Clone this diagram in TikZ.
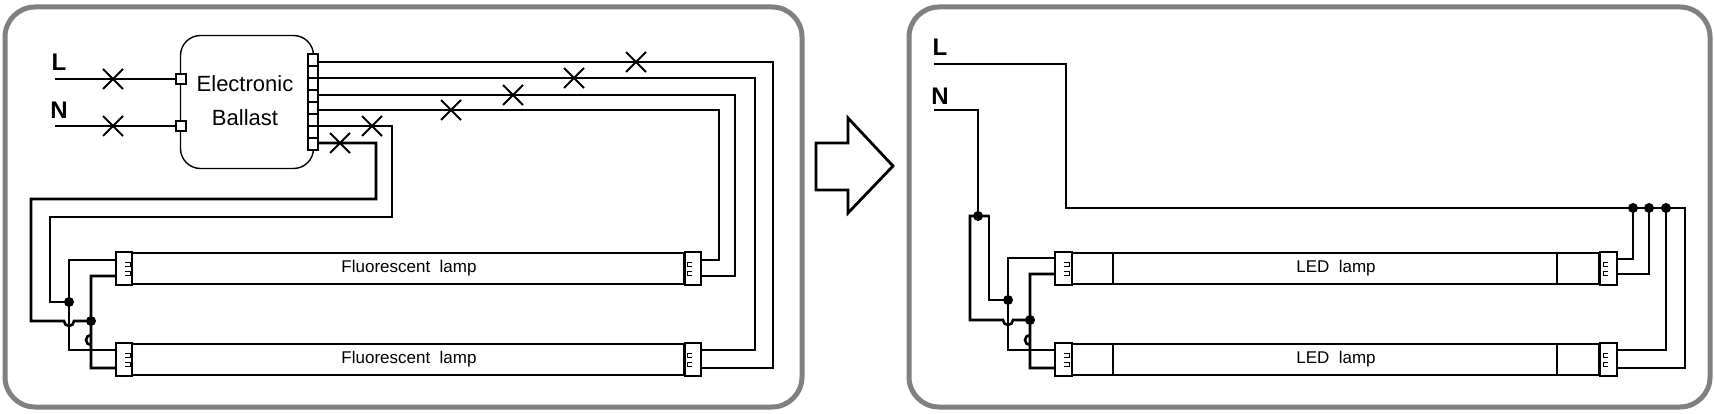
\documentclass[tikz,border=0pt]{standalone}
\usepackage{fontspec}
\setmainfont{Liberation Sans}
\begin{document}
\begin{tikzpicture}[x=1pt,y=-1pt,
  wire/.style={line width=2.6pt,line join=miter},
  frame/.style={line width=5pt,draw={rgb,255:red,128;green,128;blue,128},rounded corners=30pt},
  thin/.style={line width=1.4pt},
  dot/.style={circle,fill=black,inner sep=0pt,minimum size=10pt},
  lbl/.style={font=\bfseries\fontsize{24}{24}\selectfont},
  lamptxt/.style={font=\fontsize{17}{17}\selectfont}]
\useasboundingbox (0,0) rectangle (1715,414);
\newcommand{\xmark}[2]{\draw[line width=2pt] (#1-10,#2-10) -- (#1+10,#2+10) (#1-10,#2+10) -- (#1+10,#2-10);}
\newcommand{\lcap}[3]{% x1 x2 ytop
  \draw[thin,fill=white] (#1,#3) rectangle (#2,#3+33);
  \draw[line width=0.8pt] (#1+9,#3+10) -- (#1+14,#3+10) -- (#1+14,#3+14) -- (#1+9,#3+14) (#1+9,#3+19) -- (#1+14,#3+19) -- (#1+14,#3+23) -- (#1+9,#3+23);}
% frames
\draw[frame] (5,7) rectangle (802,407);
\draw[frame] (909,7) rectangle (1710,407);
% arrow
\draw[line width=2.8pt,line join=miter] (816,143) -- (848,143) -- (848,118) -- (893,166) -- (848,213) -- (848,190) -- (816,190) -- cycle;
% ===== left =====
\node[lbl] (L1) at (59,62) {L};
\node[lbl] (N1) at (59,110) {N};
\node[draw,thin,rounded corners=20pt,minimum width=133pt,minimum height=133pt] (bal) at (247,102) {};
\node[font=\fontsize{22}{22}\selectfont,align=center] (baltxt) at (245,101) {Electronic\\[12pt]Ballast};
\foreach \i in {0,...,7}{\draw[thin,fill=white] (308,54+12*\i) rectangle (318,66+12*\i);}
\draw[thin,fill=white] (176,74) rectangle (186,84);
\draw[thin,fill=white] (176,121) rectangle (186,131);
\draw[wire] (55,79) -- (176,79);
\draw[wire] (55,126) -- (176,126);
\xmark{113}{79}\xmark{113}{126}
% lamps
\foreach \y/\n in {252/1,343/2}{
  \node[draw,thin,minimum width=551pt,minimum height=31pt,inner sep=0pt] (fl\n) at (408,\y+16.5) {};
  \node[lamptxt] (flt\n) at (409,\y+16.5) {Fluorescent\ \ lamp};
  \lcap{116}{132}{\y}
  \begin{scope}[xscale=-1,shift={(-1386,0)}]\lcap{685}{701}{\y}\end{scope}
}
% right wires
\draw[wire] (318,62) -- (773,62) -- (773,368) -- (701,368);
\draw[wire] (318,78) -- (755,78) -- (755,350) -- (701,350);
\draw[wire] (318,95) -- (735,95) -- (735,276) -- (701,276);
\draw[wire] (318,110) -- (719,110) -- (719,260) -- (701,260);
\xmark{636}{62}\xmark{574}{78}\xmark{513}{95}\xmark{451}{110}
% left wires
\draw[wire] (318,126) -- (392,126) -- (392,217) -- (50,217) -- (50,302) -- (69,302);
\draw[wire] (318,143) -- (376,143) -- (376,199) -- (31,199) -- (31,321) -- (64,321) arc (180:0:5) -- (91,321);
\xmark{372}{126}\xmark{340}{143}
\draw[wire] (116,260) -- (69,260) -- (69,350) -- (116,350);
\draw[wire] (116,276) -- (91,276) -- (91,345) arc (90:270:5) -- (91,368) -- (116,368);
\node[dot] (d1) at (69,302) {};
\node[dot] (d2) at (91,321) {};
% ===== right =====
\node[lbl] (L2) at (940,47) {L};
\node[lbl] (N2) at (940,96) {N};
\foreach \y/\n in {252/1,343/2}{
  \node[draw,thin,minimum width=527pt,minimum height=31pt,inner sep=0pt] (led\n) at (1335,\y+16.5) {};
  \draw[thin] (1113,\y+1) -- (1113,\y+32) (1557,\y+1) -- (1557,\y+32);
  \node[lamptxt] (ledt\n) at (1336,\y+16.5) {LED\ \ lamp};
  \lcap{1055}{1072}{\y}
  \begin{scope}[xscale=-1,shift={(-3216,0)}]\lcap{1599}{1616}{\y}\end{scope}
}
\draw[wire] (934,64) -- (1066,64) -- (1066,208) -- (1685,208) -- (1685,368) -- (1616,368);
\draw[wire] (1633,208) -- (1633,259) -- (1616,259);
\draw[wire] (1649,208) -- (1649,274) -- (1616,274);
\draw[wire] (1666,208) -- (1666,350) -- (1616,350);
\node[dot] (r1) at (1633,208) {};
\node[dot] (r2) at (1649,208) {};
\node[dot] (r3) at (1666,208) {};
\draw[wire] (934,110) -- (978,110) -- (978,216);
\draw[wire] (989,216) -- (970,216) -- (970,320) -- (1003,320) arc (180:0:5) -- (1030,320);
\draw[wire] (978,216) -- (989,216) -- (989,300) -- (1008,300);
\draw[wire] (1055,258) -- (1008,258) -- (1008,350) -- (1055,350);
\draw[wire] (1055,274) -- (1030,274) -- (1030,345) arc (90:270:5) -- (1030,368) -- (1055,368);
\node[dot] (n0) at (978,216) {};
\node[dot] (n1) at (1008,300) {};
\node[dot] (n2) at (1030,320) {};
\end{tikzpicture}
\end{document}
